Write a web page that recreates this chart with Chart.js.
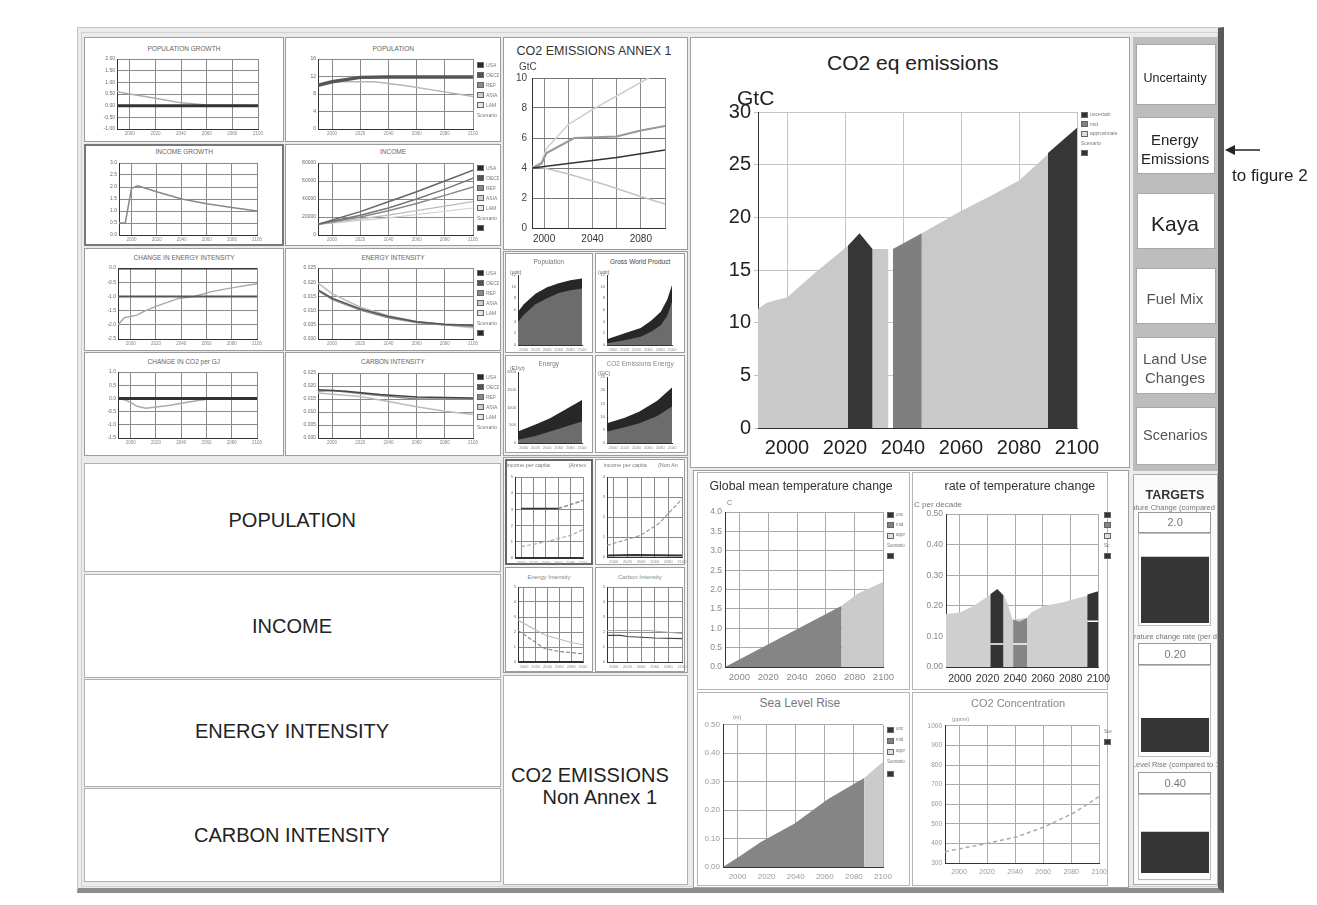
<!DOCTYPE html>
<html><head><meta charset="utf-8">
<script src="https://cdn.jsdelivr.net/npm/chart.js@4.4.1/dist/chart.umd.min.js"></script>
<style>
html,body{margin:0;padding:0;background:#fff;width:1317px;height:905px;overflow:hidden;font-family:'Liberation Sans',Arial,sans-serif;}
</style></head><body>
<script>
// ================= DATA =================
const yearTicks = [2000, 2020, 2040, 2060, 2080, 2100];

// POPULATION GROWTH (% / yr)
const popGrowthTicks = [-1, -0.5, 0, 0.5, 1, 1.5, 2];
const popGrowthAnnex1 = [[1990, 0.0], [2100, 0.0]];
const popGrowthWorld = [[1990, 0.6], [2000, 0.5], [2020, 0.32], [2040, 0.12], [2060, 0.03], [2100, 0.0]];

// POPULATION
const popTicks = [0, 4, 8, 12, 16];
const popHigh = [[1990, 10.0], [2000, 10.8], [2020, 11.8], [2040, 11.9], [2060, 11.9], [2080, 11.9], [2100, 11.9]];
const popLow = [[2000, 10.8], [2030, 10.8], [2050, 10.0], [2070, 9.0], [2100, 7.4]];

// INCOME GROWTH (% / yr)
const incGrowthTicks = [0, 0.5, 1, 1.5, 2, 2.5, 3];
const incGrowth = [[1990, 0.5], [1995, 0.5], [2000, 1.95], [2005, 2.05], [2020, 1.8], [2040, 1.5], [2060, 1.3], [2080, 1.15], [2100, 1.0]];

// INCOME ($ / capita)
const incTicks = [0, 20000, 40000, 60000, 80000];
const incA = [[1990, 11800], [2020, 26000], [2040, 37000], [2060, 48000], [2080, 60000], [2100, 72000]];
const incB = [[1990, 11800], [2020, 22000], [2040, 30000], [2060, 40000], [2080, 51000], [2100, 63000]];
const incC = [[1990, 11800], [2020, 20000], [2040, 27000], [2060, 35000], [2080, 44000], [2100, 53500]];
const incD = [[1990, 11800], [2040, 22000], [2100, 37000]];
const incE = [[1990, 11800], [2040, 19000], [2100, 30000]];

// CHANGE IN ENERGY INTENSITY (% / yr)
const eiChangeTicks = [-2.5, -2, -1.5, -1, -0.5, 0];
const eiChange = [[1990, -2.0], [1995, -1.75], [2005, -1.66], [2011, -1.52], [2020, -1.35], [2038, -1.07], [2050, -1.0], [2059, -0.9], [2063, -0.84], [2080, -0.7], [2100, -0.55]];
const eiChangeZero = [[1990, 0], [2100, 0]];
const eiChangeRef = [[1990, -1], [2100, -1]];

// ENERGY INTENSITY (GJ / $)
const eiTicks = [0, 0.005, 0.01, 0.015, 0.02, 0.025];
const eiA = [[1990, 0.0173], [2000, 0.0144], [2020, 0.0106], [2040, 0.0079], [2060, 0.0061], [2080, 0.0052], [2100, 0.0048]];
const eiB = [[1990, 0.0170], [2000, 0.0140], [2020, 0.0102], [2040, 0.0075], [2060, 0.0058], [2080, 0.0049], [2100, 0.0045]];
const eiC = [[1990, 0.0197], [2000, 0.0160], [2020, 0.0112], [2040, 0.0082], [2060, 0.0062], [2080, 0.0050], [2100, 0.0040]];

// CHANGE IN CO2 per GJ
const cgjTicks = [-1.5, -1, -0.5, 0, 0.5, 1];
const cgjZero = [[1990, 0], [2100, 0]];
const cgjWorld = [[1990, 0], [1995, -0.05], [2000, -0.15], [2005, -0.3], [2012, -0.37], [2030, -0.27], [2045, -0.15], [2060, -0.03], [2100, 0]];

// CARBON INTENSITY
const ciTicks = [0, 0.005, 0.01, 0.015, 0.02, 0.025];
const ciA = [[1990, 0.0186], [2010, 0.0180], [2034, 0.0167], [2060, 0.0158], [2100, 0.0154]];
const ciB = [[1990, 0.0180], [2000, 0.0183], [2030, 0.0165], [2060, 0.0150], [2100, 0.0150]];
const ciC = [[1990, 0.0173], [2020, 0.0160], [2040, 0.0140], [2060, 0.0120], [2080, 0.0103], [2100, 0.0090]];

// CO2 EMISSIONS ANNEX 1 (GtC)
const annexTicks = [0, 2, 4, 6, 8, 10];
const annexHigh = [[1990, 4.0], [1998, 4.4], [2002, 5.3], [2020, 6.9], [2040, 7.9], [2060, 8.8], [2082, 9.8], [2100, 10.6]];
const annexMid = [[1990, 4.0], [1998, 4.3], [2002, 5.0], [2025, 6.0], [2060, 6.1], [2080, 6.5], [2100, 6.8]];
const annexLow = [[1990, 4.0], [2025, 4.35], [2060, 4.7], [2100, 5.2]];
const annexDecline = [[1990, 4.1], [2000, 4.0], [2020, 3.6], [2050, 2.9], [2080, 2.1], [2100, 1.6]];

// small stacked areas
const popAreaTicks = [0, 2, 4, 6, 8, 10, 12];
const popAreaLow = [[1990, 4.0], [2000, 5.2], [2020, 7.0], [2040, 8.0], [2060, 8.9], [2080, 9.4], [2100, 9.7]];
const popAreaHigh = [[1990, 5.7], [2000, 7.0], [2020, 8.8], [2040, 9.9], [2060, 10.6], [2080, 11.1], [2100, 11.4]];
const gwpLow = [[1990, 0.3], [2020, 0.8], [2047, 1.4], [2065, 2.3], [2081, 3.4], [2092, 5.0], [2100, 7.4]];
const gwpHigh = [[1990, 1.0], [2020, 2.0], [2047, 2.9], [2065, 4.2], [2081, 5.7], [2092, 7.8], [2100, 10.3]];
const energyTicks = [0, 500, 1000, 1500, 2000];
const energyLow = [[1990, 95], [2020, 200], [2045, 325], [2070, 450], [2100, 605]];
const energyHigh = [[1990, 325], [2020, 520], [2045, 700], [2070, 930], [2100, 1210]];
const co2EnTicks = [0, 5, 10, 15, 20, 25];
const co2EnLow = [[1990, 4.4], [2020, 6.0], [2045, 7.5], [2075, 10.2], [2100, 13.8]];
const co2EnHigh = [[1990, 7.5], [2020, 9.6], [2045, 11.9], [2075, 16.0], [2100, 21.0]];

// small per-capita / intensity lines
const pcTicks5 = [0, 1, 2, 3, 4, 5];
const pcTicks4 = [0, 1, 2, 3, 4];
const incPcAnnexFlat = [[2000, 3.06], [2060, 3.06]];
const incPcAnnexRise = [[2060, 3.06], [2080, 3.3], [2100, 3.55]];
const incPcAnnexLow = [[2000, 0.7], [2040, 1.0], [2080, 1.4], [2100, 1.75]];
const incPcNonHigh = [[1990, 0.58], [2039, 1.08], [2066, 1.67], [2100, 2.9]];
const incPcNonLow = [[1990, 0.08], [2030, 0.1], [2100, 0.08]];
const eiSmallA = [[1990, 2.1], [2035, 0.9], [2060, 0.7], [2100, 0.55]];
const eiSmallB = [[1990, 2.8], [2035, 1.8], [2080, 1.3], [2100, 1.15]];
const ciSmallA = [[1990, 1.78], [2010, 1.78], [2020, 1.7], [2060, 1.6], [2100, 1.56]];
const ciSmallB = [[1990, 2.1], [2050, 2.1], [2100, 1.9]];

// CO2 eq emissions (GtC)
const co2eqTicks = [0, 5, 10, 15, 20, 25, 30];
const co2eqBase = [[1990, 11.3], [1993, 11.9], [1997, 12.2], [2000, 12.4], [2010, 14.8], [2021, 17.3], [2029.5, 17.0], [2035, 17.0]];
const co2eqLater = [[2046.5, 18.5], [2060, 20.6], [2070, 22.0], [2080, 23.5], [2090, 26.0]];
const co2eqPeakA = [[2021, 17.3], [2025, 18.5], [2029.5, 17.0]];
const co2eqMidB = [[2036.5, 17.0], [2046.5, 18.5]];
const co2eqPeakC = [[2090, 26.1], [2100, 28.5]];

// Global mean temperature change (C)
const tempTicks = [0, 0.5, 1, 1.5, 2, 2.5, 3, 3.5, 4];
const tempMid = [[1990, 0], [2030, 0.78], [2071, 1.58]];
const tempHigh = [[2071, 1.58], [2082, 1.89], [2100, 2.2]];

// rate of temperature change (C per decade)
const rateTicks = [0, 0.1, 0.2, 0.3, 0.4, 0.5];
const rateBase = [[1990, 0.173], [2000, 0.178], [2010, 0.2], [2018, 0.224], [2023, 0.238], [2032, 0.235], [2035, 0.2], [2038, 0.155], [2048, 0.16], [2052, 0.18], [2061, 0.2], [2073, 0.21], [2085, 0.225], [2092, 0.233], [2100, 0.245]];
const rateBlockA = [[2022, 0.238], [2027, 0.255], [2031.5, 0.235]];
const rateBlockB = [[2038.5, 0.155], [2043, 0.148], [2048.5, 0.16]];
const rateBlockC = [[2092, 0.237], [2100, 0.248]];
const rateLowA = [[2022, 0.075], [2031.5, 0.075]];
const rateLowB = [[2038.5, 0.075], [2048.5, 0.075]];
const rateLowC = [[2092, 0.15], [2100, 0.15]];

// Sea level rise (m)
const seaTicks = [0, 0.1, 0.2, 0.3, 0.4, 0.5];
const seaMid = [[1990, 0], [2001, 0.036], [2016, 0.088], [2039, 0.152], [2062, 0.238], [2087, 0.313]];
const seaHigh = [[2087, 0.313], [2100, 0.37]];

// CO2 concentration (ppmv)
const concTicks = [300, 400, 500, 600, 700, 800, 900, 1000];
const co2Conc = [[1990, 358], [2020, 400], [2041, 433], [2061, 485], [2083, 560], [2100, 640]];

// Targets
const targetNames = ['Temperature Change (compared to 1990)', 'Temperature change rate (per decade)', 'Sea Level Rise (compared to 1990)'];
const targetValues = ['2.0', '0.20', '0.40'];
const targetLevels = [0.75, 0.40, 0.53];

// ================= HELPERS =================
const FONT = "'Liberation Sans', Arial, Helvetica, sans-serif";
function el(tag, css, parent) { const d = document.createElement(tag); d.style.cssText = css; (parent || document.body).appendChild(d); return d; }
function box(x, y, w, h, css) { return el('div', `position:absolute;left:${x}px;top:${y}px;width:${w}px;height:${h}px;box-sizing:border-box;${css || ''}`); }
function txt(s, x, y, size, o = {}) {
  const d = el('div', `position:absolute;white-space:nowrap;line-height:1;font-family:${o.font || FONT};font-size:${size}px;color:${o.color || '#222'};font-weight:${o.weight || 'normal'};left:0;top:0;`);
  d.textContent = s;
  const w = d.offsetWidth, h = d.offsetHeight, a = o.align || 'c';
  d.style.left = (a === 'c' ? x - w / 2 : a === 'r' ? x - w : x) + 'px';
  d.style.top = (y - h / 2) + 'px';
  return d;
}
function clipTxt(s, x, y, w, size, color) {
  const c = box(x, y - size, w, size * 2, 'overflow:hidden;');
  const d = el('div', `position:absolute;white-space:nowrap;line-height:1;font-family:${FONT};font-size:${size}px;color:${color};top:0;left:0;`, c);
  d.textContent = s;
  d.style.left = (w / 2 - d.offsetWidth / 2) + 'px';
  d.style.top = (size - d.offsetHeight / 2) + 'px';
}
function legend(x, y, w, step, items, fs) {
  const c = box(x, y, w, step * items.length + 2, 'overflow:hidden;');
  items.forEach((it, i) => {
    const cy = i * step + step / 2;
    if (it.c) el('div', `position:absolute;left:0;top:${cy - 3}px;width:7px;height:6px;background:${it.c};box-sizing:border-box;border:1px solid #666;`, c);
    if (it.t) { const t = el('div', `position:absolute;left:${it.c ? 9 : 0}px;top:0;font-family:${FONT};font-size:${fs || 5}px;line-height:1;color:#777;white-space:nowrap;`, c); t.textContent = it.t; t.style.top = (cy - t.offsetHeight / 2) + 'px'; }
  });
}
const pts = a => a.map(([x, y]) => ({ x, y }));
const ln = (a, c, w, ex) => Object.assign({ data: pts(a), borderColor: c, borderWidth: w, fill: false, pointRadius: 0 }, ex || {});
const ar = (a, c, order) => ({ data: pts(a), borderColor: c, backgroundColor: c, borderWidth: 0, fill: 'origin', pointRadius: 0, order: order || 0 });

function scale(o, axis, size) {
  return {
    type: 'linear', min: o.min, max: o.max,
    afterBuildTicks: sc => { sc.ticks = o.ticks.map(v => ({ value: v })); },
    afterFit: sc => { if (axis === 'x') sc.height = size; else sc.width = size; },
    ticks: {
      display: o.labels !== false, autoSkip: false, maxRotation: 0, minRotation: 0,
      padding: o.pad ?? 2, color: o.color || '#666',
      font: { family: FONT, size: o.fs || 5 },
      callback: v => o.fmt ? o.fmt(v) : String(v)
    },
    grid: { display: o.grid !== false, color: o.gridColor || '#8a8a8a', lineWidth: o.gridW || 1, drawTicks: !!o.tickLen, tickLength: o.tickLen || 0, tickColor: o.gridColor || '#8a8a8a' },
    border: { display: true, color: o.borderColor || '#333', width: o.borderW || 1 }
  };
}
function mk(o) {
  const [x0, y0, x1, y1] = o.plot;
  const L = o.padL ?? 28, B = o.padB ?? 12, T = o.padT ?? 6, R = o.padR ?? 10;
  const W = x1 - x0 + L + R, H = y1 - y0 + T + B;
  const c = el('canvas', `position:absolute;left:${x0 - L}px;top:${y0 - T}px;width:${W}px;height:${H}px;`);
  c.width = W; c.height = H;
  const scales = o.scales || { x: scale(o.x, 'x', B), y: scale(o.y, 'y', L) };
  return new Chart(c.getContext('2d'), {
    type: o.type || 'line', data: { labels: o.labels, datasets: o.datasets },
    options: {
      responsive: false, animation: false, events: [], devicePixelRatio: 1,
      layout: { autoPadding: false, padding: { left: 0, top: T, right: R, bottom: 0 } },
      plugins: { legend: { display: false }, tooltip: { enabled: false }, title: { display: false } },
      scales
    }
  });
}
const X = (ex) => Object.assign({ min: 1990, max: 2100, ticks: yearTicks, fs: 4.5, color: '#888' }, ex || {});

// ================= FRAME & PANELS =================
box(77, 27, 1147, 866, 'background:#ebebeb;border:1px solid #c4c4c4;border-right:6px solid #5a5a5a;border-bottom:5px solid #8c8c8c;');
box(81, 32, 1137, 855, 'border:1px solid #d2d2d2;');
const P = 'background:#fff;border:1px solid #9c9c9c;';
[[84, 37, 200, 105], [285, 37, 216, 105], [84, 144, 200, 102], [285, 144, 216, 102], [84, 248, 200, 103], [285, 248, 216, 103], [84, 352, 200, 104], [285, 352, 216, 104]]
  .forEach(r => box(r[0], r[1], r[2], r[3], P));
box(84, 144, 200, 102, 'border:2px solid #777;');
[[84, 463, 417, 109], [84, 574, 417, 104], [84, 679, 417, 108], [84, 788, 417, 94]].forEach(r => box(r[0], r[1], r[2], r[3], 'background:#fff;border:1px solid #b0b0b0;'));
box(503, 37, 185, 213, P);
box(503, 251, 185, 205, 'background:#f4f4f4;border:1px solid #9c9c9c;');
[[505, 253, 88, 100], [595, 253, 90, 100], [505, 355, 88, 98], [595, 355, 90, 98]].forEach(r => box(r[0], r[1], r[2], r[3], P));
box(503, 457, 185, 216, 'background:#f4f4f4;border:1px solid #9c9c9c;');
[[505, 459, 88, 106], [595, 459, 90, 106], [505, 567, 88, 105], [595, 567, 90, 105]].forEach(r => box(r[0], r[1], r[2], r[3], P));
box(505, 459, 88, 106, 'border:2px solid #666;');
box(503, 675, 185, 210, 'background:#fff;border:1px solid #b0b0b0;');
box(690, 37, 440, 431, 'background:#fff;border:1px solid #a0a0a0;');
box(693, 470, 436, 418, 'background:#fff;border:1px solid #a0a0a0;');
[[697, 472, 213, 218], [912, 472, 196, 218], [697, 692, 213, 194], [912, 692, 196, 194]].forEach(r => box(r[0], r[1], r[2], r[3], 'background:#fff;border:1px solid #b4b4b4;'));
box(1133, 37, 85, 434, 'background:#bdbdbd;');
[[1136, 44, 80, 61], [1137, 117, 78, 57], [1137, 193, 78, 56], [1136, 268, 80, 56], [1136, 337, 80, 57], [1136, 407, 80, 58]]
  .forEach(r => box(r[0], r[1], r[2], r[3], 'background:#fff;border:1px solid #a8a8a8;'));
box(1133, 474, 85, 411, 'background:#fafafa;border:1px solid #aaa;');
[[1138, 512, 73, 21], [1138, 643, 73, 22], [1138, 772, 73, 22]].forEach(r => box(r[0], r[1], r[2], r[3], 'background:#fff;border:1px solid #999;'));
[[1138, 533, 73, 93], [1138, 665, 73, 92], [1138, 794, 73, 86]].forEach(r => box(r[0], r[1], r[2], r[3], 'background:#fff;border:1px solid #bbb;'));

// ================= LEFT GRID CHARTS =================
const f2 = v => v.toFixed(2), f1 = v => v.toFixed(1), f3 = v => v.toFixed(3);
mk({ plot: [117, 59, 258, 129], x: X(), y: { min: -1, max: 2, ticks: popGrowthTicks, fmt: f2 },
  datasets: [ln(popGrowthAnnex1, '#333', 3), ln(popGrowthWorld, '#aaa', 1.5)] });
mk({ plot: [318, 59, 473, 129], x: X(), y: { min: 0, max: 16, ticks: popTicks },
  datasets: [ln(popHigh, '#555', 3.5), ln(popLow, '#b5b5b5', 1.5)] });
mk({ plot: [119, 163, 257, 235], x: X(), y: { min: 0, max: 3, ticks: incGrowthTicks, fmt: f1 },
  datasets: [ln(incGrowth, '#888', 1.5)] });
mk({ plot: [318, 163, 473, 235], x: X(), y: { min: 0, max: 80000, ticks: incTicks },
  datasets: [ln(incA, '#666', 1.5), ln(incB, '#777', 1.5), ln(incC, '#888', 1.5), ln(incD, '#bbb', 1.2), ln(incE, '#d0d0d0', 1.2)] });
mk({ plot: [118, 268, 257, 339], x: X(), y: { min: -2.5, max: 0, ticks: eiChangeTicks, fmt: f1 },
  datasets: [ln(eiChangeZero, '#333', 3), ln(eiChangeRef, '#555', 2), ln(eiChange, '#a8a8a8', 1.5)] });
mk({ plot: [318, 268, 473, 339], x: X(), y: { min: 0, max: 0.025, ticks: eiTicks, fmt: f3 },
  datasets: [ln(eiA, '#555', 1.5), ln(eiB, '#888', 1.5), ln(eiC, '#bbb', 1.5)] });
mk({ plot: [118, 372, 257, 438], x: X(), y: { min: -1.5, max: 1, ticks: cgjTicks, fmt: f1 },
  datasets: [ln(cgjZero, '#333', 3), ln(cgjWorld, '#aaa', 1.5)] });
mk({ plot: [318, 373, 473, 438], x: X(), y: { min: 0, max: 0.025, ticks: ciTicks, fmt: f3 },
  datasets: [ln(ciA, '#444', 1.5), ln(ciB, '#888', 1.5), ln(ciC, '#bbb', 1.5)] });

[['POPULATION GROWTH', 184, 49], ['POPULATION', 393, 49], ['INCOME GROWTH', 184, 152], ['INCOME', 393, 152],
 ['CHANGE IN ENERGY INTENSITY', 184, 258], ['ENERGY INTENSITY', 393, 258], ['CHANGE IN CO2 per GJ', 184, 362], ['CARBON INTENSITY', 393, 362]]
  .forEach(t => txt(t[0], t[1], t[2], 6.5, { color: '#666' }));
const regLegend = [{ c: '#2a2a2a', t: 'USA' }, { c: '#555', t: 'OECD' }, { c: '#888', t: 'REF' }, { c: '#ccc', t: 'ASIA' }, { c: '#e6e6e6', t: 'LAM' }, { t: 'Scenario' }];
legend(477, 60, 22, 10, regLegend);
legend(477, 163, 22, 10, regLegend.concat([{ c: '#2a2a2a' }]));
legend(477, 268, 22, 10, regLegend.concat([{ c: '#2a2a2a' }]));
legend(477, 372, 22, 10, regLegend);

// ================= LEFT TEXT BUTTONS =================
txt('POPULATION', 292, 520, 20);
txt('INCOME', 292, 626, 20);
txt('ENERGY INTENSITY', 292, 731, 20);
txt('CARBON INTENSITY', 292, 835, 20);

// ================= ANNEX 1 =================
mk({ plot: [532, 73, 665, 228], padL: 26, padB: 22, padR: 20,
  x: X({ fs: 10, color: '#333', pad: 5, fmt: v => (v === 2000 || v === 2040 || v === 2080) ? String(v) : '' }),
  y: { min: 0, max: 10, ticks: annexTicks, fs: 10, color: '#444', pad: 5, gridColor: '#777' },
  datasets: [ln(annexLow, '#333', 1.5), ln(annexMid, '#999', 2), ln(annexHigh, '#d0d0d0', 1.5), ln(annexDecline, '#c4c4c4', 1.5)] });
txt('CO2 EMISSIONS  ANNEX 1', 594, 51, 12.5, { color: '#333' });
txt('GtC', 519, 67, 10, { color: '#444', align: 'l' });

// ================= SMALL STACKED AREAS (no grid) =================
const sx = X({ fs: 4, grid: false });
const sy = (mx, t) => ({ min: 0, max: mx, ticks: t, fs: 4, grid: false });
mk({ plot: [518, 275, 582, 345], padL: 12, padB: 8, x: sx, y: sy(12, popAreaTicks),
  datasets: [ar(popAreaLow, '#6c6c6c', 0), ar(popAreaHigh, '#272727', 1)] });
mk({ plot: [607, 275, 672, 345], padL: 12, padB: 8, x: sx, y: sy(12, popAreaTicks),
  datasets: [ar(gwpLow, '#6c6c6c', 0), ar(gwpHigh, '#272727', 1)] });
mk({ plot: [518, 372, 582, 443], padL: 12, padB: 8, x: sx, y: sy(2000, energyTicks),
  datasets: [ar(energyLow, '#6c6c6c', 0), ar(energyHigh, '#272727', 1)] });
mk({ plot: [607, 377, 672, 443], padL: 12, padB: 8, x: sx, y: sy(25, co2EnTicks),
  datasets: [ar(co2EnLow, '#6c6c6c', 0), ar(co2EnHigh, '#272727', 1)] });
txt('Population', 549, 262, 6.5, { color: '#777' });
txt('Gross World Product', 640, 262, 6.5, { color: '#444' });
txt('Energy', 549, 364, 6.5, { color: '#777' });
txt('CO2 Emissions Energy', 640, 364, 6.5, { color: '#888' });
txt('(unit)', 510, 272, 5, { color: '#666', align: 'l' });
txt('(unit)', 598, 272, 5, { color: '#666', align: 'l' });
txt('(EJ/yr)', 510, 368, 5, { color: '#666', align: 'l' });
txt('(GtC)', 598, 373, 5, { color: '#666', align: 'l' });

// ================= SMALL LINE CHARTS =================
const lx = X({ fs: 4 });
mk({ plot: [515, 477, 583, 558], padL: 10, padB: 8, x: lx, y: { min: 0, max: 5, ticks: pcTicks5, fs: 4 },
  datasets: [ln(incPcAnnexFlat, '#333', 1.5), ln(incPcAnnexRise, '#888', 1.5, { borderDash: [4, 2] }), ln(incPcAnnexLow, '#aaa', 1.2, { borderDash: [4, 2] }), ln(eiChangeZero, '#333', 2)] });
mk({ plot: [607, 477, 682, 557], padL: 12, padB: 8, x: lx, y: { min: 0, max: 4, ticks: pcTicks4, fs: 4 },
  datasets: [ln(incPcNonHigh, '#999', 1.2, { borderDash: [4, 2] }), ln(incPcNonLow, '#333', 2)] });
mk({ plot: [518, 587, 583, 662], padL: 12, padB: 8, x: lx, y: { min: 0, max: 5, ticks: pcTicks5, fs: 4 },
  datasets: [ln(eiSmallA, '#888', 1.2, { borderDash: [4, 2] }), ln(eiSmallB, '#bbb', 1.2), ln(eiChangeZero, '#333', 2)] });
mk({ plot: [607, 587, 682, 662], padL: 12, padB: 8, x: lx, y: { min: 0, max: 5, ticks: pcTicks5, fs: 4 },
  datasets: [ln(ciSmallA, '#444', 1.2), ln(ciSmallB, '#aaa', 1.2)] });
txt('income per capita', 528, 466, 5.5, { color: '#777' });
txt('(Annex', 577, 466, 5.5, { color: '#777' });
txt('income per capita', 625, 466, 5.5, { color: '#777' });
txt('(Non An', 668, 466, 5.5, { color: '#777' });
txt('Energy Intensity', 549, 577, 6, { color: '#888' });
txt('Carbon Intensity', 640, 577, 6, { color: '#888' });

txt('CO2 EMISSIONS', 590, 775, 20);
txt('Non Annex 1', 600, 797, 20);

// ================= CO2 eq EMISSIONS (MAIN) =================
mk({ plot: [758, 111, 1077, 428], padL: 48, padB: 40, padT: 14, padR: 40,
  x: X({ fs: 20, color: '#222', pad: 8, gridColor: '#c4c4c4' }),
  y: { min: 0, max: 30, ticks: co2eqTicks, fs: 20, color: '#222', pad: 3, gridColor: '#c4c4c4', tickLen: 4 },
  datasets: [ar(co2eqPeakA, '#363636', 1), ar(co2eqMidB, '#7f7f7f', 1), ar(co2eqPeakC, '#363636', 1),
    ar(co2eqBase, '#c9c9c9', 5), ar(co2eqLater, '#c9c9c9', 5)] });
txt('CO2 eq emissions', 913, 62, 21);
txt('GtC', 737, 97, 21, { align: 'l' });
legend(1081, 110, 48, 9.5, [{ c: '#333', t: 'uncertain' }, { c: '#7f7f7f', t: 'mid' }, { c: '#ddd', t: 'approximate' }, { t: 'Scenario' }, { c: '#333' }], 5);

// ================= TEMPERATURE etc. =================
mk({ plot: [725, 510, 885, 667], padL: 26, padB: 18, padR: 14,
  x: X({ fs: 9.5, color: '#888', pad: 5, gridColor: '#aaa' }),
  y: { min: 0, max: 4, ticks: tempTicks, fs: 8.5, color: '#888', pad: 3, gridColor: '#aaa', fmt: f1 },
  datasets: [ar(tempMid, '#858585', 1), ar(tempHigh, '#cbcbcb', 2)] });
txt('Global mean temperature change', 801, 486, 12.3, { color: '#333' });
txt('C', 727, 502, 7, { color: '#777', align: 'l' });
legend(887, 510, 22, 10.3, [{ c: '#333', t: 'unc' }, { c: '#7f7f7f', t: 'mid' }, { c: '#ddd', t: 'appr' }, { t: 'Scenario' }, { c: '#333' }], 4.5);

mk({ plot: [946, 512, 1100, 667], padL: 32, padB: 20, padR: 16,
  x: X({ fs: 10.5, color: '#333', pad: 6, gridColor: '#aaa' }),
  y: { min: 0, max: 0.5, ticks: rateTicks, fs: 8.5, color: '#888', pad: 3, gridColor: '#aaa', fmt: f2 },
  datasets: [ar(rateBlockA, '#333333', 1), ar(rateBlockB, '#858585', 1), ar(rateBlockC, '#333333', 1), ar(rateBase, '#cfcfcf', 5),
    ln(rateLowA, '#fff', 1.5), ln(rateLowB, '#fff', 1.5), ln(rateLowC, '#fff', 1.5)] });
txt('rate of temperature change', 1020, 486, 12.5, { color: '#333' });
txt('C per decade', 914, 505, 8, { color: '#777', align: 'l' });
legend(1104, 510, 8, 10.3, [{ c: '#333' }, { c: '#858585' }, { c: '#ddd' }, { t: 'Sc' }, { c: '#333' }], 4.5);

mk({ plot: [723, 723, 883, 867], padL: 26, padB: 18, padR: 14,
  x: X({ fs: 8, color: '#999', pad: 5, gridColor: '#aaa' }),
  y: { min: 0, max: 0.5, ticks: seaTicks, fs: 8, color: '#999', pad: 3, gridColor: '#aaa', fmt: f2 },
  datasets: [ar(seaMid, '#858585', 1), ar(seaHigh, '#cbcbcb', 2)] });
txt('Sea Level Rise', 800, 703, 12, { color: '#777' });
txt('(m)', 733, 718, 5.5, { color: '#888', align: 'l' });
legend(887, 724, 22, 11, [{ c: '#333', t: 'unc' }, { c: '#7f7f7f', t: 'mid' }, { c: '#ddd', t: 'appr' }, { t: 'Scenario' }, { c: '#333' }], 4.5);

mk({ plot: [945, 725, 1100, 863], padL: 30, padB: 18, padR: 12,
  x: X({ fs: 7, color: '#999', pad: 5, gridColor: '#aaa' }),
  y: { min: 300, max: 1000, ticks: concTicks, fs: 6.5, color: '#999', pad: 3, gridColor: '#aaa' },
  datasets: [ln(co2Conc, '#aaa', 1.5, { borderDash: [4, 3] })] });
txt('CO2 Concentration', 1018, 703, 11, { color: '#888' });
txt('(ppmv)', 952, 720, 5.5, { color: '#888', align: 'l' });
legend(1104, 727, 8, 10, [{ t: 'Scenario' }, { c: '#333' }], 4.5);

// ================= RIGHT NAV =================
txt('Uncertainty', 1175, 78, 12.5);
txt('Energy', 1175, 139, 15);
txt('Emissions', 1175, 158, 15);
txt('Kaya', 1175, 223, 21);
txt('Fuel Mix', 1175, 298, 15, { color: '#555' });
txt('Land Use', 1175, 358, 15, { color: '#555' });
txt('Changes', 1175, 377, 15, { color: '#555' });
txt('Scenarios', 1175, 435, 14.5, { color: '#555' });

// ================= TARGETS =================
txt('TARGETS', 1175, 495, 12.5, { weight: 'bold', color: '#333' });
const subY = [508, 637, 765], valY = [522, 654, 783];
const barRects = [[1141, 535, 1209, 623], [1141, 668, 1209, 752], [1141, 796, 1209, 873]];
targetNames.forEach((n, i) => {
  clipTxt(n, 1134, subY[i], 83, 7.5, '#777');
  txt(targetValues[i], 1175, valY[i], 11, { color: '#777' });
  mk({ type: 'bar', plot: barRects[i], padL: 0, padB: 0, padT: 0, padR: 0, labels: ['target'],
    datasets: [{ data: [targetLevels[i]], backgroundColor: '#353535', barPercentage: 1, categoryPercentage: 1 }],
    scales: { x: { type: 'category', display: false }, y: { min: 0, max: 1, display: false } } });
});

// ================= ANNOTATION =================
const svgNS = 'http://www.w3.org/2000/svg';
const svg = document.createElementNS(svgNS, 'svg');
svg.setAttribute('width', '45'); svg.setAttribute('height', '20');
svg.style.cssText = 'position:absolute;left:1222px;top:140px;';
svg.innerHTML = '<line x1="38" y1="10" x2="8" y2="10" stroke="#222" stroke-width="1.5"/><polygon points="3,10 13,5 13,15" fill="#222"/>';
document.body.appendChild(svg);
txt('to figure 2', 1232, 175, 17, { align: 'l', font: "'Liberation Sans Narrow', 'Liberation Sans', Arial, sans-serif", color: '#222' });
</script>
</body></html>
